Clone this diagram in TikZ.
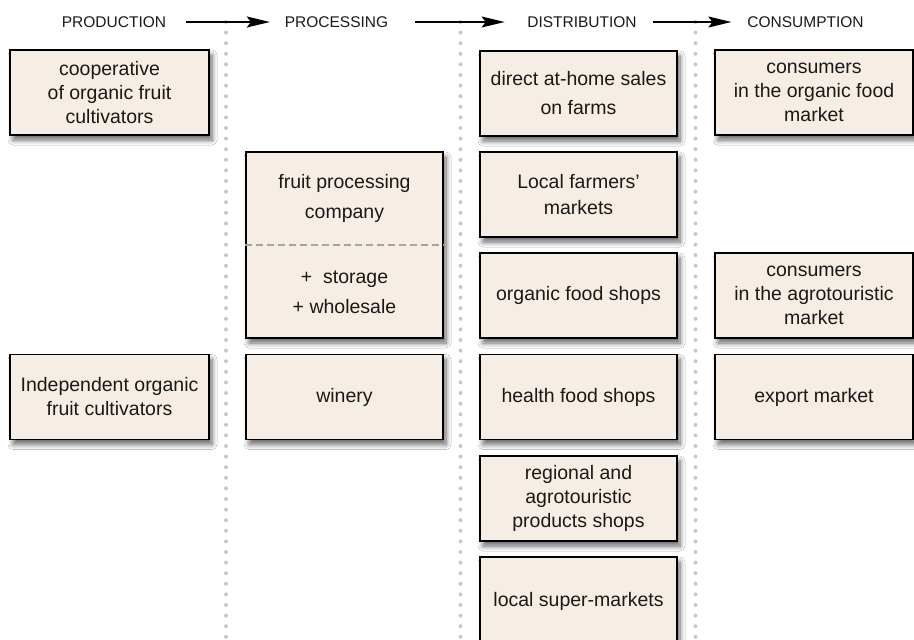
\documentclass[tikz,border=0pt]{standalone}
\usepackage{fontspec}
\setmainfont{Liberation Sans}
\usetikzlibrary{arrows.meta,shadows.blur}
\definecolor{boxfill}{RGB}{246,238,228}
\definecolor{dotgray}{RGB}{200,200,200}
\definecolor{txt}{RGB}{25,25,25}
\begin{document}
\begin{tikzpicture}[x=1pt,y=-1pt,
  box/.style={draw=black, line width=1.5pt, fill=boxfill, align=center, inner sep=0pt, text=txt,
    minimum width=197pt, minimum height=85pt, font=\fontsize{19.5}{24}\selectfont,
    blur shadow={shadow xshift=3pt, shadow yshift=-5pt, shadow blur steps=8, shadow blur radius=5pt, shadow opacity=60}},
  btext/.style={align=center, inner sep=0pt, text=txt, font=\fontsize{19.5}{24}\selectfont},
  head/.style={font=\fontsize{15.5}{18}\selectfont, inner sep=0pt, text=txt},
  flow/.style={line width=1.3pt, -{Stealth[length=23pt,width=11pt,inset=4pt]}},
  sep/.style={dotgray, line width=4pt, line cap=round, dash pattern=on 0pt off 10.6pt}
]
\useasboundingbox (0,0) rectangle (914,640);
\clip (0,0) rectangle (914,640);
\fill[white] (0,0) rectangle (914,640);

% separators
\coordinate (s1a) at (226,22); \coordinate (s1b) at (226,640);
\coordinate (s2a) at (460.5,22); \coordinate (s2b) at (460.5,640);
\coordinate (s3a) at (695.5,22); \coordinate (s3b) at (695.5,640);
\draw[sep] (s1a) -- (s1b);
\draw[sep] (s2a) -- (s2b);
\draw[sep] (s3a) -- (s3b);

% headers
\node[head] (h1) at (114,22) {PRODUCTION};
\node[head] (h2) at (336.5,22) {PROCESSING};
\node[head] (h3) at (582,22) {DISTRIBUTION};
\node[head] (h4) at (805.5,22) {CONSUMPTION};
\draw[flow, shorten <=19.9pt, shorten >=14.8pt] (h1.east) -- (h2.west);
\draw[flow, shorten <=26.8pt, shorten >=22.5pt] (h2.east) -- (h3.west);
\draw[flow, shorten <=16.5pt, shorten >=15.8pt] (h3.east) -- (h4.west);

% production
\node[box, minimum width=199pt] (coop) at (109.5,92.5) {cooperative\\of organic fruit\\cultivators};
\node[box, minimum width=199pt] (indep) at (109.5,397) {Independent organic\\fruit cultivators};

% processing
\node[box, minimum height=186pt] (fpc) at (344.5,245) {};
\node[btext, font=\fontsize{19.5}{30}\selectfont] (fpctop) at (344.5,198) {fruit processing\\company};
\node[btext, font=\fontsize{19.5}{30}\selectfont] (fpcbot) at (344.5,292) {+\ \ storage\\+ wholesale};
\draw[gray!70, line width=1.4pt, dash pattern=on 7pt off 4pt] (fpc.west) -- (fpc.east);
\node[box] (winery) at (344.5,397) {winery};

% distribution
\node[box, font=\fontsize{19.5}{29}\selectfont] (direct) at (578.5,93.5) {direct at-home sales\\on farms};
\node[box, font=\fontsize{19.5}{26}\selectfont] (local) at (578.5,194.5) {Local farmers’\\markets};
\node[box] (orgshop) at (578.5,295.5) {organic food shops};
\node[box] (health) at (578.5,397) {health food shops};
\node[box] (regional) at (578.5,498.5) {regional and\\agrotouristic\\products shops};
\node[box, minimum height=88pt] (super) at (578.5,601) {local super-markets};

% consumption
\node[box, minimum width=198pt] (corg) at (814,92.5) {consumers\\in the organic food\\market};
\node[box, minimum width=198pt] (cagro) at (814,295.5) {consumers\\in the agrotouristic\\market};
\node[box, minimum width=198pt] (export) at (814,397) {export market};
\end{tikzpicture}
\end{document}
